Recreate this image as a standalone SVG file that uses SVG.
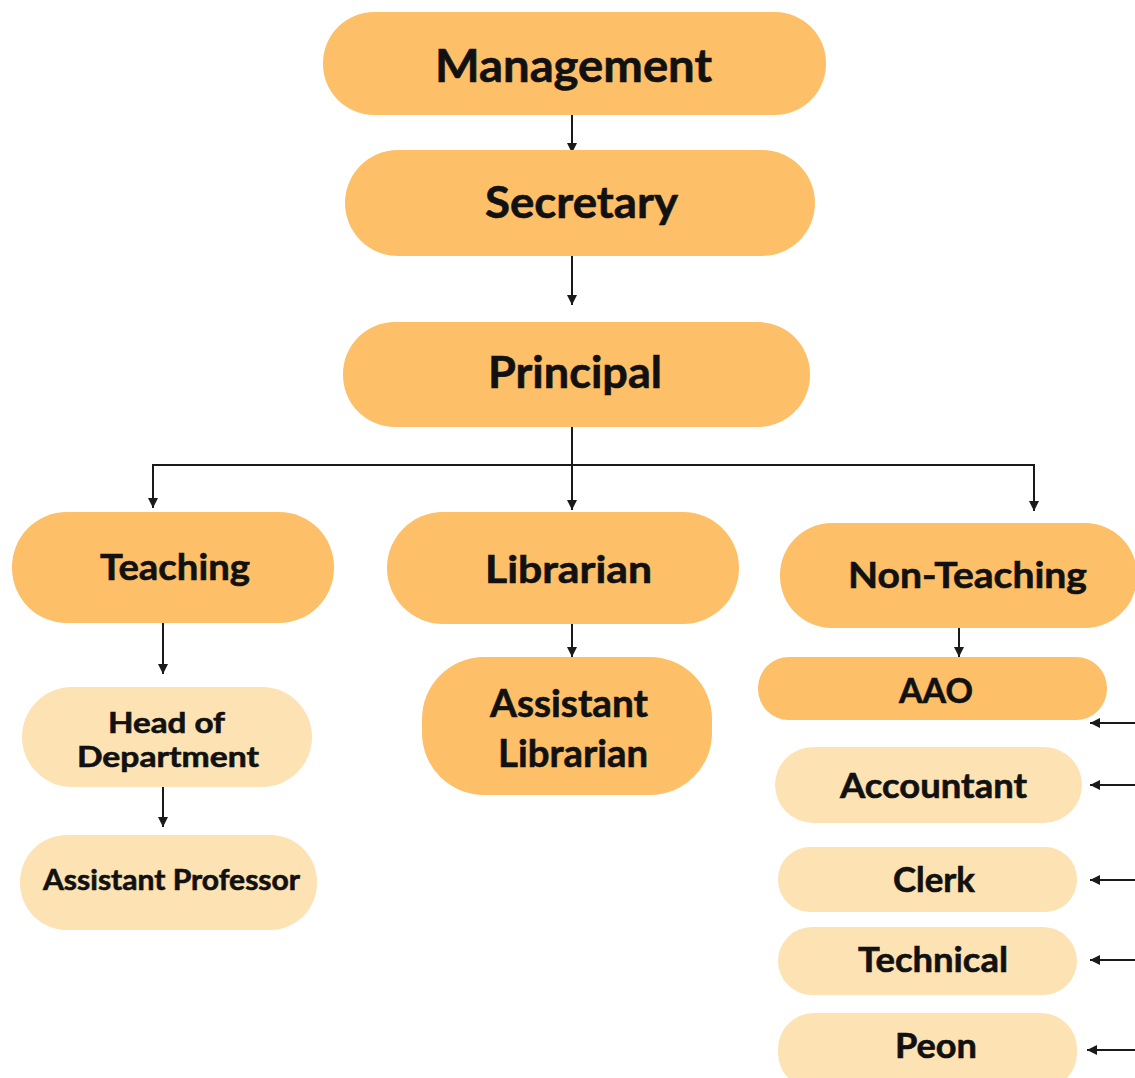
<svg xmlns="http://www.w3.org/2000/svg" width="1135" height="1078" viewBox="0 0 1135 1078">
<defs>
<style>
.dark{fill:#FDBF67;}
.light{fill:#FDE2B3;}
.t{font-family:"Lato","Open Sans","Liberation Sans",sans-serif;font-weight:bold;fill:#111;stroke:#111;stroke-width:0.6;text-anchor:middle;}
.c{fill:none;stroke:#1a1a1a;stroke-width:2;}
.a{marker-end:url(#ah);}
</style>
<marker id="ah" viewBox="0 0 10 10" refX="10" refY="5" markerWidth="11" markerHeight="10" markerUnits="userSpaceOnUse" orient="auto">
<path d="M0,0 L10,5 L0,10 z" fill="#1a1a1a"/>
</marker>
</defs>
<rect width="1135" height="1078" fill="#ffffff"/>

<g id="connectors">
<line class="c a" x1="572" y1="115" x2="572" y2="153"/>
<line class="c a" x1="572" y1="256" x2="572" y2="305"/>
<line class="c" x1="572" y1="427" x2="572" y2="465"/>
<line class="c" x1="152" y1="465" x2="1035" y2="465"/>
<line class="c a" x1="153" y1="464" x2="153" y2="508"/>
<line class="c a" x1="572" y1="465" x2="572" y2="510"/>
<line class="c a" x1="1034" y1="464" x2="1034" y2="511"/>
<line class="c a" x1="163" y1="623" x2="163" y2="674"/>
<line class="c a" x1="163" y1="787" x2="163" y2="827"/>
<line class="c a" x1="572" y1="624" x2="572" y2="657"/>
<line class="c a" x1="959" y1="628" x2="959" y2="657"/>
<line class="c a" x1="1135" y1="723" x2="1090" y2="723"/>
<line class="c a" x1="1135" y1="785" x2="1090" y2="785"/>
<line class="c a" x1="1135" y1="880" x2="1090" y2="880"/>
<line class="c a" x1="1135" y1="960" x2="1090" y2="960"/>
<line class="c a" x1="1135" y1="1050" x2="1087" y2="1050"/>
</g>

<g id="management">
<rect class="dark" x="323" y="12" width="503" height="103" rx="51"/>
<text class="t" x="573.5" y="82" font-size="45" textLength="277" lengthAdjust="spacingAndGlyphs">Management</text>
</g>
<g id="secretary">
<rect class="dark" x="345" y="150" width="470" height="106" rx="53"/>
<text class="t" x="581.5" y="218" font-size="44" textLength="193" lengthAdjust="spacingAndGlyphs">Secretary</text>
</g>
<g id="principal">
<rect class="dark" x="343" y="322" width="467" height="105" rx="52"/>
<text class="t" x="575" y="388" font-size="44" textLength="174" lengthAdjust="spacingAndGlyphs">Principal</text>
</g>
<g id="teaching">
<rect class="dark" x="12" y="512" width="322" height="111" rx="55"/>
<text class="t" x="175" y="580" font-size="36" textLength="150" lengthAdjust="spacingAndGlyphs">Teaching</text>
</g>
<g id="librarian">
<rect class="dark" x="387" y="512" width="352" height="112" rx="56"/>
<text class="t" x="568.5" y="583" font-size="38" textLength="167" lengthAdjust="spacingAndGlyphs">Librarian</text>
</g>
<g id="non-teaching">
<rect class="dark" x="780" y="523" width="357" height="105" rx="52"/>
<text class="t" x="967.5" y="588" font-size="37" textLength="239" lengthAdjust="spacingAndGlyphs">Non-Teaching</text>
</g>
<g id="head-of-department">
<rect class="light" x="22" y="687" width="290" height="100" rx="50"/>
<text class="t" x="166.5" y="733" font-size="28" textLength="117" lengthAdjust="spacingAndGlyphs">Head of</text>
<text class="t" x="168" y="767" font-size="28" textLength="182" lengthAdjust="spacingAndGlyphs">Department</text>
</g>
<g id="assistant-professor">
<rect class="light" x="20" y="835" width="297" height="95" rx="47"/>
<text class="t" x="171.5" y="890" font-size="28" textLength="257" lengthAdjust="spacingAndGlyphs">Assistant Professor</text>
</g>
<g id="assistant-librarian">
<rect class="dark" x="422" y="657" width="290" height="138" rx="62"/>
<text class="t" x="569" y="717" font-size="38" textLength="158" lengthAdjust="spacingAndGlyphs">Assistant</text>
<text class="t" x="573" y="767" font-size="38" textLength="150" lengthAdjust="spacingAndGlyphs">Librarian</text>
</g>
<g id="aao">
<rect class="dark" x="758" y="657" width="349" height="63" rx="31"/>
<text class="t" x="936" y="703" font-size="35" textLength="74" lengthAdjust="spacingAndGlyphs">AAO</text>
</g>
<g id="accountant">
<rect class="light" x="775" y="747" width="307" height="76" rx="38"/>
<text class="t" x="933.5" y="798" font-size="35" textLength="187" lengthAdjust="spacingAndGlyphs">Accountant</text>
</g>
<g id="clerk">
<rect class="light" x="778" y="847" width="299" height="65" rx="32"/>
<text class="t" x="934" y="892" font-size="35" textLength="82" lengthAdjust="spacingAndGlyphs">Clerk</text>
</g>
<g id="technical">
<rect class="light" x="778" y="927" width="299" height="68" rx="34"/>
<text class="t" x="933" y="972" font-size="35" textLength="150" lengthAdjust="spacingAndGlyphs">Technical</text>
</g>
<g id="peon">
<rect class="light" x="778" y="1013" width="299" height="76" rx="36"/>
<text class="t" x="936" y="1058" font-size="35" textLength="82" lengthAdjust="spacingAndGlyphs">Peon</text>
</g>
</svg>
